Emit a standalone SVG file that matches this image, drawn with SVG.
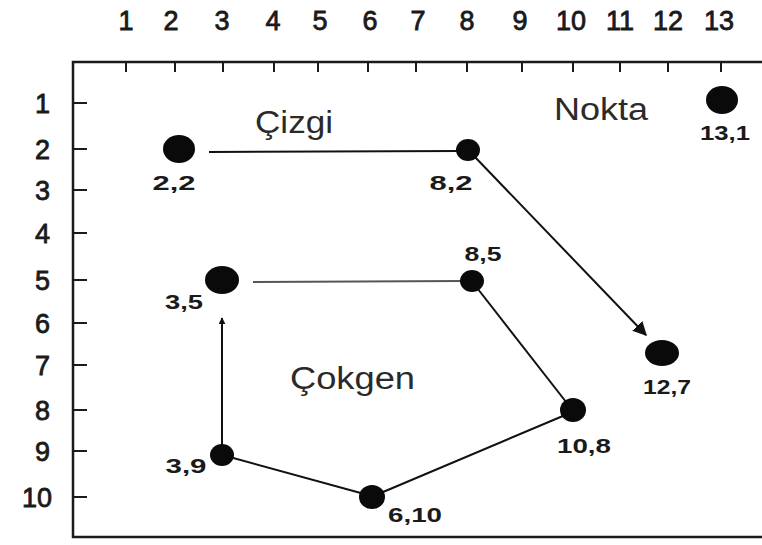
<svg xmlns="http://www.w3.org/2000/svg" width="762" height="545" viewBox="0 0 762 545">
  <style>
    .axis { stroke: #1a1a1a; stroke-width: 2.5; fill: none; }
    .tick { stroke: #1a1a1a; stroke-width: 2; }
    .num { font-family: "Liberation Sans", Arial, sans-serif; font-size: 27px; fill: #1a1a1a; stroke: #1a1a1a; stroke-width: 0.8; }
    .row { text-anchor: end; }
    .col { text-anchor: middle; }
    .dot { fill: #0a0a0a; }
    .lbl { font-family: "Liberation Sans", Arial, sans-serif; font-size: 20px; font-weight: bold; fill: #1a1a1a; text-anchor: middle; }
    .title { font-family: "Liberation Sans", Arial, sans-serif; font-size: 31px; fill: #2a2a2a; }
    .edge { stroke: #111; stroke-width: 2; fill: none; }
    .soft { stroke: #555; stroke-width: 2; fill: none; }
  </style>
  <defs>
    <marker id="headFilled" viewBox="0 0 10 10" refX="9" refY="5" markerWidth="7" markerHeight="7" markerUnits="userSpaceOnUse" orient="auto">
      <path d="M0,0 L10,5 L0,10 z" fill="#111"/>
    </marker>
    <marker id="headBig" viewBox="0 0 10 10" refX="9" refY="5" markerWidth="14" markerHeight="14" markerUnits="userSpaceOnUse" orient="auto">
      <path d="M0,0 L10,5 L0,10 z" fill="#111"/>
    </marker>
  </defs>

  <rect width="762" height="545" fill="#ffffff"/>

  <!-- grid frame with ticks -->
  <g id="frame">
    <path class="axis" d="M762,62 L73,62 L73,537 L762,537"/>
    <g class="tick">
      <line x1="126" y1="62" x2="126" y2="72"/>
      <line x1="175" y1="62" x2="175" y2="72"/>
      <line x1="223" y1="62" x2="223" y2="72"/>
      <line x1="274" y1="62" x2="274" y2="72"/>
      <line x1="318" y1="62" x2="318" y2="72"/>
      <line x1="368" y1="62" x2="368" y2="72"/>
      <line x1="416" y1="62" x2="416" y2="72"/>
      <line x1="467" y1="62" x2="467" y2="72"/>
      <line x1="522" y1="62" x2="522" y2="72"/>
      <line x1="573" y1="62" x2="573" y2="72"/>
      <line x1="620" y1="62" x2="620" y2="72"/>
      <line x1="668" y1="62" x2="668" y2="72"/>
      <line x1="721" y1="62" x2="721" y2="72"/>
      <line x1="73" y1="103" x2="87" y2="103"/>
      <line x1="73" y1="149" x2="87" y2="149"/>
      <line x1="73" y1="190" x2="87" y2="190"/>
      <line x1="73" y1="233" x2="87" y2="233"/>
      <line x1="73" y1="280" x2="87" y2="280"/>
      <line x1="73" y1="323" x2="87" y2="323"/>
      <line x1="73" y1="365" x2="87" y2="365"/>
      <line x1="73" y1="410" x2="87" y2="410"/>
      <line x1="73" y1="451" x2="87" y2="451"/>
      <line x1="73" y1="497" x2="87" y2="497"/>
    </g>
  </g>

  <!-- column numbers -->
  <g id="columns" class="num col">
    <text x="126" y="30">1</text>
    <text x="171" y="30">2</text>
    <text x="222" y="30">3</text>
    <text x="273" y="30">4</text>
    <text x="320" y="30">5</text>
    <text x="370" y="30">6</text>
    <text x="418" y="30">7</text>
    <text x="467" y="30">8</text>
    <text x="520" y="30">9</text>
    <text x="571" y="30">10</text>
    <text x="620" y="30">11</text>
    <text x="668" y="30">12</text>
    <text x="719" y="30">13</text>
  </g>

  <!-- row numbers -->
  <g id="rows" class="num row">
    <text x="50" y="113">1</text>
    <text x="50" y="159">2</text>
    <text x="50" y="200">3</text>
    <text x="50" y="243">4</text>
    <text x="50" y="290">5</text>
    <text x="50" y="333">6</text>
    <text x="50" y="375">7</text>
    <text x="50" y="420">8</text>
    <text x="50" y="461">9</text>
    <text x="52" y="507">10</text>
  </g>

  <!-- titles -->
  <text id="title-cizgi" class="title" x="255" y="133" textLength="78" lengthAdjust="spacingAndGlyphs">Çizgi</text>
  <text id="title-nokta" class="title" x="554" y="120" textLength="94" lengthAdjust="spacingAndGlyphs">Nokta</text>
  <text id="title-cokgen" class="title" x="290" y="389" textLength="125" lengthAdjust="spacingAndGlyphs">Çokgen</text>

  <!-- connectors -->
  <g id="connectors">
    <line class="edge" x1="209" y1="152" x2="462" y2="151"/>
    <line class="edge" x1="474" y1="156" x2="646" y2="335" marker-end="url(#headBig)"/>
    <line class="soft" x1="462" y1="281" x2="253" y2="282"/>
    <line class="edge" x1="474" y1="284" x2="570" y2="407"/>
    <line class="edge" x1="570" y1="413" x2="376" y2="495"/>
    <line class="edge" x1="368" y1="495" x2="226" y2="456"/>
    <line class="edge" x1="222" y1="450" x2="222" y2="318" marker-end="url(#headFilled)"/>
  </g>

  <!-- points -->
  <g id="p-2-2">
    <ellipse class="dot" cx="179" cy="149" rx="16" ry="14"/>
    <text class="lbl" x="174" y="190" textLength="43" lengthAdjust="spacingAndGlyphs">2,2</text>
  </g>
  <g id="p-8-2">
    <ellipse class="dot" cx="468" cy="150" rx="12" ry="11"/>
    <text class="lbl" x="451" y="190" textLength="43" lengthAdjust="spacingAndGlyphs">8,2</text>
  </g>
  <g id="p-13-1">
    <ellipse class="dot" cx="722" cy="100" rx="16" ry="14"/>
    <text class="lbl" x="725" y="140" textLength="50" lengthAdjust="spacingAndGlyphs">13,1</text>
  </g>
  <g id="p-12-7">
    <ellipse class="dot" cx="662" cy="353" rx="17" ry="13"/>
    <text class="lbl" x="667" y="394" textLength="48" lengthAdjust="spacingAndGlyphs">12,7</text>
  </g>
  <g id="p-3-5">
    <ellipse class="dot" cx="222" cy="280" rx="17" ry="14"/>
    <text class="lbl" x="184" y="309" textLength="38" lengthAdjust="spacingAndGlyphs">3,5</text>
  </g>
  <g id="p-8-5">
    <ellipse class="dot" cx="472" cy="281" rx="12" ry="11"/>
    <text class="lbl" x="483" y="261" textLength="37" lengthAdjust="spacingAndGlyphs">8,5</text>
  </g>
  <g id="p-10-8">
    <ellipse class="dot" cx="573" cy="410" rx="13" ry="12"/>
    <text class="lbl" x="584" y="453" textLength="54" lengthAdjust="spacingAndGlyphs">10,8</text>
  </g>
  <g id="p-3-9">
    <ellipse class="dot" cx="222" cy="455" rx="12" ry="11"/>
    <text class="lbl" x="186" y="473" textLength="41" lengthAdjust="spacingAndGlyphs">3,9</text>
  </g>
  <g id="p-6-10">
    <ellipse class="dot" cx="372" cy="497" rx="13" ry="12"/>
    <text class="lbl" x="415" y="522" textLength="54" lengthAdjust="spacingAndGlyphs">6,10</text>
  </g>
</svg>
